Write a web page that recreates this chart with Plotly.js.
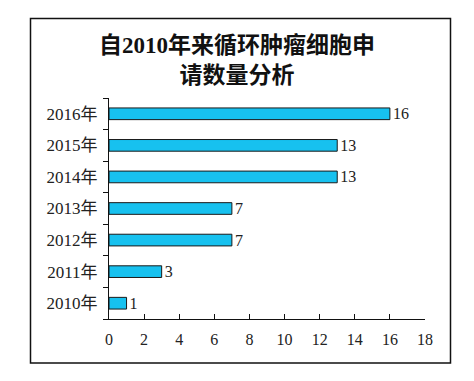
<!DOCTYPE html>
<html><head><meta charset="utf-8">
<script src="https://cdn.plot.ly/plotly-3.0.1.min.js"></script>
<style>body{margin:0;background:#fff}#c{width:474px;height:381px}</style>
</head><body><div id="c"></div>
<script>
const categories = ["2010年","2011年","2012年","2013年","2014年","2015年","2016年"];
const values = [1,3,7,7,13,13,16];
const xTicks = [0,2,4,6,8,10,12,14,16,18];
const titleText = "自2010年来循环肿瘤细胞申<br>请数量分析";

const F = '"Liberation Serif", "Noto Sans CJK SC", serif';
const ml=109, mr=49, mt=98, mb=62, W=474, H=381;
const pw=W-ml-mr, ph=H-mt-mb;
const px2x = p => (p-ml)/pw;
const py2y = p => (H-mb-p)/ph;

Plotly.newPlot('c', [{
  type:'bar', orientation:'h',
  y: categories, x: values,
  marker:{color:'#17C1EF', line:{color:'#1a1a1a', width:1}},
  width:0.37,
  text: values.map(String), textposition:'outside', constraintext:'none',
  textfont:{family:F, size:16, color:'#222'},
  cliponaxis:false, hoverinfo:'none'
}], {
  width:W, height:H,
  margin:{l:ml, r:mr, t:mt, b:mb},
  paper_bgcolor:'#fff', plot_bgcolor:'#fff',
  showlegend:false,
  title:{text:titleText, font:{family:F, size:23, color:'#111', weight:'bold'},
    x:0.5, xref:'container', y:1-53/H, yref:'container', yanchor:'top'},
  xaxis:{range:[0,18], tickvals:xTicks, ticktext:xTicks.map(String),
    showgrid:false, zeroline:false, showline:true, linecolor:'#111', linewidth:1,
    ticks:'inside', ticklen:5, tickcolor:'#111',
    tickfont:{family:F, size:16, color:'#222'}, ticklabelstandoff:6, fixedrange:true},
  yaxis:{type:'category', categoryorder:'array', categoryarray:categories,
    showgrid:false, zeroline:false, showline:true, linecolor:'#111', linewidth:1,
    ticks:'outside', ticklen:5, tickcolor:'#111', tickson:'boundaries',
    tickfont:{family:F, size:17, color:'#222'}, ticklabelstandoff:7, fixedrange:true},
  shapes:[{type:'rect', xref:'paper', yref:'paper',
    x0:px2x(30.5), x1:px2x(450.5), y0:py2y(363), y1:py2y(18.5),
    line:{color:'#111', width:1.5}, fillcolor:'rgba(0,0,0,0)', layer:'below'}]
}, {staticPlot:true});
</script></body></html>
